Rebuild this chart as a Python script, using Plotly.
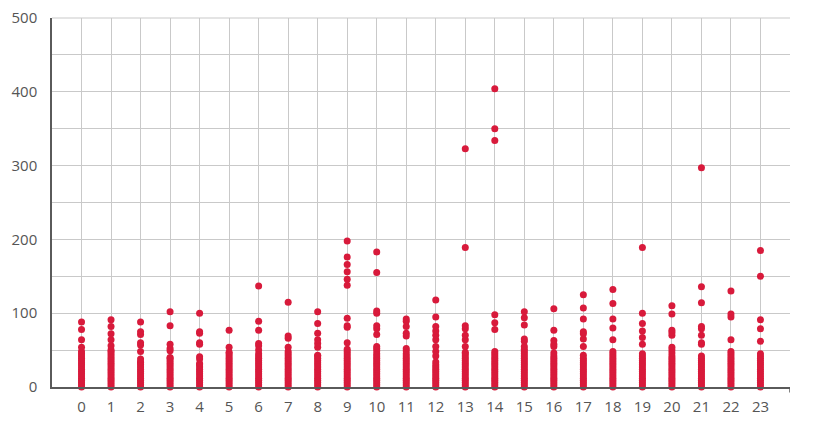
import plotly.graph_objects as go

hours = list(range(24))

h0 = [0, 3, 6, 9, 12, 15, 18, 21, 24, 27, 30, 33, 36, 39, 42, 45, 48, 54, 64, 78, 88]
h1 = [0, 3, 6, 9, 12, 15, 18, 21, 24, 27, 30, 33, 36, 39, 42, 45, 48, 50, 56, 64, 72, 82, 91]
h2 = [0, 3, 6, 9, 12, 15, 18, 21, 24, 27, 30, 33, 34, 38, 48, 57, 60, 71, 75, 88]
h3 = [0, 3, 6, 9, 12, 15, 18, 21, 24, 27, 30, 33, 36, 39, 40, 49, 52, 58, 83, 102]
h4 = [0, 3, 6, 9, 12, 15, 18, 21, 24, 27, 30, 32, 38, 41, 58, 60, 73, 75, 100]
h5 = [0, 3, 6, 9, 12, 15, 18, 21, 24, 27, 30, 33, 36, 39, 42, 45, 47, 54, 77]
h6 = [0, 3, 6, 9, 12, 15, 18, 21, 24, 27, 30, 33, 36, 39, 42, 45, 50, 56, 59, 77, 89, 137]
h7 = [0, 3, 6, 9, 12, 15, 18, 21, 24, 27, 30, 33, 36, 39, 42, 45, 48, 54, 66, 69, 115]
h8 = [0, 3, 6, 9, 12, 15, 18, 21, 24, 27, 30, 33, 36, 39, 42, 43, 54, 59, 64, 73, 86, 102]
h9 = [0, 3, 6, 9, 12, 15, 18, 21, 24, 27, 30, 33, 36, 39, 42, 45, 48, 51, 60, 81, 83, 93,
      138, 146, 156, 166, 176, 198]
h10 = [0, 3, 6, 9, 12, 15, 18, 21, 24, 27, 30, 33, 36, 39, 42, 45, 49, 52, 55, 71, 79, 83,
       100, 103, 155, 183]
h11 = [0, 3, 6, 9, 12, 15, 18, 21, 24, 27, 30, 33, 36, 39, 42, 45, 49, 52, 69, 73, 82, 89, 92]
h12 = [0, 3, 6, 9, 12, 15, 18, 21, 24, 27, 30, 34, 42, 48, 55, 64, 70, 76, 82, 95, 118]
h13 = [0, 3, 6, 9, 12, 15, 18, 21, 24, 27, 30, 33, 36, 39, 42, 45, 47, 55, 64, 70, 79, 83,
       189, 323]
h14 = [0, 3, 6, 9, 12, 15, 18, 21, 24, 27, 30, 33, 36, 39, 42, 45, 48, 78, 87, 98, 334, 350, 404]
h15 = [0, 3, 6, 9, 12, 15, 18, 21, 24, 27, 30, 33, 36, 39, 42, 45, 48, 51, 55, 62, 65, 84, 94, 102]
h16 = [0, 3, 6, 9, 12, 15, 18, 21, 24, 27, 30, 33, 36, 39, 42, 46, 55, 58, 63, 77, 106]
h17 = [0, 3, 6, 9, 12, 15, 18, 21, 24, 27, 30, 33, 36, 39, 43, 55, 65, 72, 75, 92, 107, 125]
h18 = [0, 3, 6, 9, 12, 15, 18, 21, 24, 27, 30, 33, 36, 39, 42, 45, 48, 64, 80, 92, 113, 132]
h19 = [0, 3, 6, 9, 12, 15, 18, 21, 24, 27, 30, 33, 36, 39, 42, 45, 58, 67, 76, 86, 100, 189]
h20 = [0, 3, 6, 9, 12, 15, 18, 21, 24, 27, 30, 33, 36, 39, 42, 46, 50, 54, 70, 74, 77, 99, 110]
h21 = [0, 3, 6, 9, 12, 15, 18, 21, 24, 27, 30, 33, 36, 39, 42, 58, 60, 70, 79, 82, 114, 136, 297]
h22 = [0, 3, 6, 9, 12, 15, 18, 21, 24, 27, 30, 33, 36, 39, 42, 45, 48, 64, 95, 99, 130]
h23 = [0, 3, 6, 9, 12, 15, 18, 21, 24, 27, 30, 33, 36, 39, 42, 45, 62, 79, 91, 150, 185]

values_by_hour = [h0, h1, h2, h3, h4, h5, h6, h7, h8, h9, h10, h11,
                  h12, h13, h14, h15, h16, h17, h18, h19, h20, h21, h22, h23]

y_tickvals = [0, 50, 100, 150, 200, 250, 300, 350, 400, 450, 500]
y_ticktext = ["0", "", "100", "", "200", "", "300", "", "400", "", "500"]
x_tickvals = list(range(25))
x_ticktext = [str(h) for h in hours] + [""]

xs, ys = [], []
for h, vals in zip(hours, values_by_hour):
    xs.extend([h] * len(vals))
    ys.extend(vals)

RED = "#d81a3b"
GRID = "#c9c9c9"
AXIS = "#5a5a5a"
FONT = dict(family="Open Sans, Noto Sans, sans-serif", size=15, color="#555555")

fig = go.Figure()
fig.add_trace(go.Scatter(
    x=xs, y=ys, mode="markers",
    marker=dict(color=RED, size=7, line=dict(width=0)),
    cliponaxis=False, showlegend=False, hoverinfo="x+y",
))

# page body has an 8px margin, so the figure is sized to fit inside it
fig.update_layout(
    width=798, height=414,
    margin=dict(l=44, r=16, t=10, b=35, autoexpand=False),
    paper_bgcolor="white", plot_bgcolor="white",
    font=FONT,
    xaxis=dict(
        range=[-1, 24], tickmode="array", tickvals=x_tickvals, ticktext=x_ticktext,
        showgrid=True, gridcolor=GRID, gridwidth=1,
        showline=True, linecolor=AXIS, linewidth=1.5,
        ticks="", zeroline=False, ticklabelstandoff=5, tickfont=FONT,
        automargin=False, ticklabeloverflow="allow",
    ),
    yaxis=dict(
        range=[0, 500], tickmode="array", tickvals=y_tickvals, ticktext=y_ticktext,
        showgrid=True, gridcolor=GRID, gridwidth=1,
        showline=True, linecolor=AXIS, linewidth=1.5,
        ticks="", zeroline=False, ticklabelstandoff=10, tickfont=FONT,
        automargin=False, ticklabeloverflow="allow",
    ),
)

# small end tick on the x axis (right end)
fig.add_shape(type="line", xref="x", yref="paper", x0=24, x1=24, y0=0, y1=-0.015,
              line=dict(color=AXIS, width=1.5))
fig.add_shape(type="line", xref="paper", yref="paper", x0=0, x1=1, y0=1, y1=1,
              line=dict(color=GRID, width=1), layer="below")

fig.write_html("out.html")
